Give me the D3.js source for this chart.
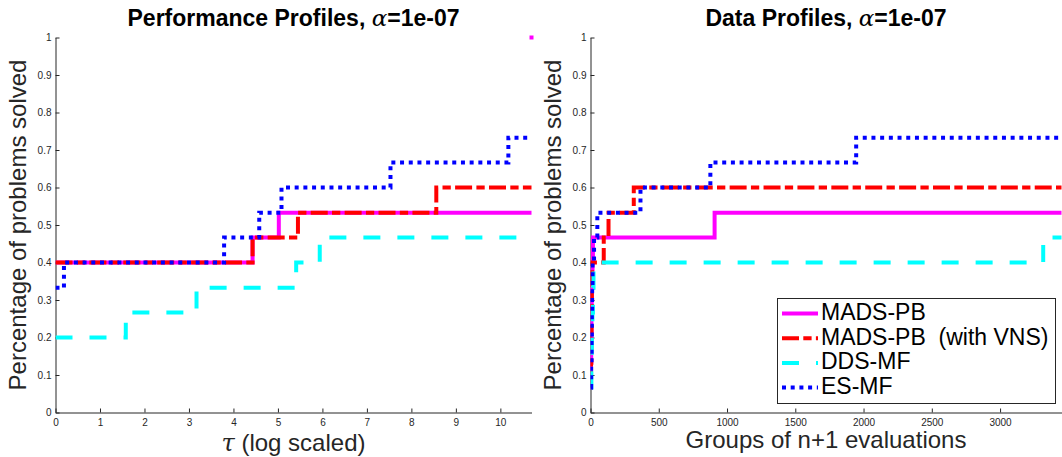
<!DOCTYPE html>
<html>
<head>
<meta charset="utf-8">
<script src="https://cdn.jsdelivr.net/npm/d3@7"></script>
<style>
	body { margin: 0; background: #fff; }
	svg { display: block; font-family: "Liberation Sans", Arial, Helvetica, sans-serif; }
	.legend text { white-space: pre; }
</style>
</head>
<body>
<svg id="chart" width="1062" height="457"></svg>
<script>

// Solver names, in plotting order
const solverNames = ["MADS-PB", "MADS-PB  (with VNS)", "DDS-MF", "ES-MF"];

// Performance profiles: step change points (tau, fraction solved)
const perfTau = [
	[0, 4.43, 5.02, 10.7],
	[0, 4.43, 5.45, 8.56, 10.7],
	[0, 1.58, 3.17, 5.41, 5.94, 10.7],
	[0, 0.19, 3.79, 4.58, 5.08, 7.53, 10.18, 10.7]
];
const perfSolved = [
	[0.4, 0.467, 0.533, 0.533],
	[0.4, 0.467, 0.533, 0.6, 0.6],
	[0.2, 0.267, 0.333, 0.4, 0.467, 0.467],
	[0.333, 0.4, 0.467, 0.533, 0.6, 0.667, 0.733, 0.733]
];
// MADS-PB final point of the performance profile
const perfFinalTau = [10.7];
const perfFinalSolved = [1];

// Data profiles: step change points (groups of n+1 evaluations, fraction solved)
const dataEvals = [
	[0, 3, 5, 7, 9, 15, 18, 909, 3450],
	[0, 4, 6, 8, 10, 12, 97, 132, 317, 3450],
	[0, 6, 10, 14, 18, 22, 3316, 3450],
	[0, 5, 8, 10, 12, 15, 26, 50, 366, 878, 1946, 3450]
];
const dataSolved = [
	[0.067, 0.133, 0.2, 0.267, 0.333, 0.4, 0.467, 0.533, 0.533],
	[0.067, 0.133, 0.2, 0.267, 0.333, 0.4, 0.467, 0.533, 0.6, 0.6],
	[0.067, 0.133, 0.2, 0.267, 0.333, 0.4, 0.467, 0.467],
	[0.067, 0.133, 0.2, 0.267, 0.333, 0.4, 0.467, 0.533, 0.6, 0.667, 0.733, 0.733]
];

// Tick values
const perfXTicks = [0, 1, 2, 3, 4, 5, 6, 7, 8, 9, 10];
const dataXTicks = [0, 500, 1000, 1500, 2000, 2500, 3000];
const yTicks = [0, 0.1, 0.2, 0.3, 0.4, 0.5, 0.6, 0.7, 0.8, 0.9, 1];


// Line styles for each solver (MATLAB-like)
const solverStyles = [
	{ color: "#ff00ff", dash: null },
	{ color: "#ff0000", dash: "17,4.3,8.3,4.3" },
	{ color: "#00ffff", dash: "17,17" },
	{ color: "#0000ff", dash: "4,4.7" }
];

const axisColor = "#262626";
const plotTop = 37.5, plotBottom = 412.5;

const svg = d3.select("#chart");


function drawPanel(panel) {
	const x = d3.scaleLinear().domain(panel.xDomain).range(panel.xRange);
	const y = d3.scaleLinear().domain([0, 1]).range([plotBottom, plotTop]);

	const g = svg.append("g");

	// Clip area for the curves
	const clipId = `clip-${panel.id}`;
	svg.append("clipPath").attr("id", clipId)
		.append("rect")
		.attr("x", panel.xRange[0])
		.attr("y", plotTop - 3)
		.attr("width", panel.xRange[1] - panel.xRange[0] + 3)
		.attr("height", plotBottom - plotTop + 6);

	// Axes, ticks pointing inwards
	const xAxis = g.append("g")
		.attr("transform", `translate(0, ${plotBottom})`)
		.call(d3.axisBottom(x).tickValues(panel.xTicks).tickSize(-4).tickSizeOuter(0).tickPadding(6)
			.tickFormat(d3.format("d")));
	const yAxis = g.append("g")
		.attr("transform", `translate(${panel.xRange[0]}, 0)`)
		.call(d3.axisLeft(y).tickValues(yTicks).tickSize(-4).tickSizeOuter(0).tickPadding(4)
			.tickFormat(d3.format("~g")));
	for (const axis of [xAxis, yAxis]) {
		axis.attr("font-family", null).attr("font-size", 10);
		axis.select(".domain").attr("stroke", axisColor);
		axis.selectAll(".tick line").attr("stroke", axisColor);
		axis.selectAll(".tick text").attr("fill", axisColor);
	}

	// Step curves
	const line = d3.line()
		.x(d => x(d[0]))
		.y(d => y(d[1]))
		.curve(d3.curveStepAfter);

	const curves = g.append("g").attr("clip-path", `url(#${clipId})`);
	panel.xs.forEach((xs, i) => {
		const points = xs.map((v, j) => [v, panel.ys[i][j]]);
		curves.append("path")
			.attr("d", line(points))
			.attr("fill", "none")
			.attr("stroke", solverStyles[i].color)
			.attr("stroke-width", 4)
			.attr("stroke-dasharray", solverStyles[i].dash);
	});

	// Extra isolated points
	if (panel.points) {
		g.selectAll("rect.point")
			.data(panel.points)
			.join("rect")
			.attr("class", "point")
			.attr("x", d => x(d[0]) - 2)
			.attr("y", d => y(d[1]) - 2)
			.attr("width", 4)
			.attr("height", 4)
			.attr("fill", panel.pointColor);
	}

	const cx = (panel.xRange[0] + panel.xRange[1]) / 2;

	// Title
	const title = g.append("text")
		.attr("x", cx)
		.attr("y", 26)
		.attr("text-anchor", "middle")
		.attr("font-size", 23)
		.attr("font-weight", "bold")
		.attr("fill", "#000");
	title.append("tspan").text(panel.title + ", ");
	title.append("tspan")
		.attr("font-family", "'DejaVu Serif', 'Liberation Serif', serif")
		.attr("font-style", "italic")
		.attr("font-weight", "normal")
		.text("α");
	title.append("tspan").text("=1e-07");

	// Axis labels
	const xLabel = g.append("text")
		.attr("x", cx)
		.attr("y", panel.xLabelY)
		.attr("text-anchor", "middle")
		.attr("font-size", 24)
		.attr("fill", axisColor);
	if (panel.xLabelSymbol) {
		xLabel.append("tspan")
			.attr("font-family", "'DejaVu Serif', 'Liberation Serif', serif")
			.attr("font-style", "italic")
			.text(panel.xLabelSymbol);
	}
	xLabel.append("tspan").text(panel.xLabel);

	g.append("text")
		.attr("transform", `translate(${panel.xRange[0] - 30}, ${(plotTop + plotBottom) / 2}) rotate(-90)`)
		.attr("text-anchor", "middle")
		.attr("font-size", 24)
		.attr("fill", axisColor)
		.text("Percentage of problems solved");

	return { x, y };
}


drawPanel({
	id: "perf",
	title: "Performance Profiles",
	xDomain: [0, 10.7],
	xRange: [55.5, 531.5],
	xTicks: perfXTicks,
	xs: perfTau,
	ys: perfSolved,
	points: perfFinalTau.map((v, i) => [v, perfFinalSolved[i]]),
	pointColor: solverStyles[0].color,
	xLabelSymbol: "τ",
	xLabel: " (log scaled)",
	xLabelY: 451
});

drawPanel({
	id: "data",
	title: "Data Profiles",
	xDomain: [0, 3450],
	xRange: [590.5, 1061.5],
	xTicks: dataXTicks,
	xs: dataEvals,
	ys: dataSolved,
	xLabel: "Groups of n+1 evaluations",
	xLabelY: 448
});


// Legend
const legend = svg.append("g").attr("class", "legend");
legend.append("rect")
	.attr("x", 777.5)
	.attr("y", 298.5)
	.attr("width", 278)
	.attr("height", 105)
	.attr("fill", "#fff")
	.attr("stroke", axisColor);

const legendRows = legend.selectAll("g.row")
	.data(solverNames)
	.join("g")
	.attr("class", "row")
	.attr("transform", (d, i) => `translate(0, ${320 + i * 24.7})`);

legendRows.append("line")
	.attr("x1", 782)
	.attr("x2", 818)
	.attr("y1", -6.5)
	.attr("y2", -6.5)
	.attr("stroke", (d, i) => solverStyles[i].color)
	.attr("stroke-width", 4)
	.attr("stroke-dasharray", (d, i) => solverStyles[i].dash);

legendRows.append("text")
	.attr("x", 821)
	.attr("y", 0)
	.attr("font-size", 23)
	.attr("fill", "#000")
	.text(d => d);

</script>
</body>
</html>
